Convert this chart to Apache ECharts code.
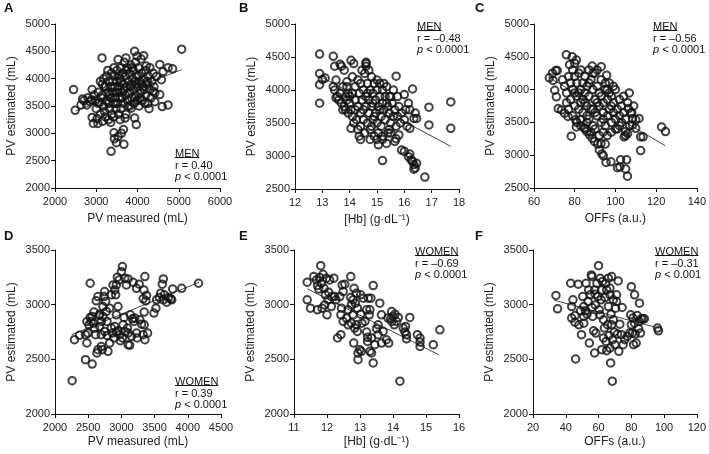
<!DOCTYPE html>
<html>
<head>
<meta charset="utf-8">
<script src="https://cdn.jsdelivr.net/npm/echarts@6/dist/echarts.min.js"></script>
<style>
  html, body { margin: 0; padding: 0; background: #fff; }
  #chart { width: 709px; height: 454px; }
</style>
</head>
<body>
<div id="chart"></div>
<script>
// A: men, PV measured vs PV estimated
const menMeasured = [
  [2450,3800],[2490,3420],[2670,3630],[2630,3520],[2770,3520],[2900,3800],[2880,3615],[2900,3290],[2930,3180],[3040,3180],
  [3020,3270],[3140,4380],[3080,3560],[3360,2670],[3430,3010],[3440,2900],[3530,2940],[3530,4350],[3490,2830],[3610,3000],
  [3670,2800],[3660,3070],[3700,3280],[3720,4380],[3930,4500],[3990,4410],[4090,4360],[4150,4420],[3970,3160],[3930,3280],
  [3850,3460],[4210,4230],[4420,3580],[4380,3770],[4540,4260],[4620,4130],[4580,3980],[4540,3710],[4600,3490],[4740,3520],
  [4740,4200],[4850,4180],[5070,4540],[4420,3740],[4460,4040],
  [3150,3900],[3150,3700],[3180,3500],[3200,3400],[3220,3300],[3200,3850],[3250,4050],[3250,3600],[3280,3750],[3300,3950],
  [3300,3550],[3320,3450],[3350,3850],[3350,3650],[3370,4100],[3380,3350],[3400,3950],[3400,3750],[3420,3550],[3450,4050],
  [3450,3850],[3460,3650],[3480,3450],[3500,4150],[3500,3950],[3500,3750],[3520,3550],[3540,3350],[3550,4050],[3560,3850],
  [3580,3650],[3600,4200],[3600,3950],[3600,3450],[3620,3750],[3640,4100],[3650,3550],[3660,3900],[3680,4300],[3700,3700],
  [3700,4050],[3720,3350],[3740,3850],[3750,4200],[3760,3600],[3780,3950],[3800,4100],[3800,3750],[3820,3500],[3840,4250],
  [3850,3900],[3860,3650],[3880,4000],[3900,3800],[3900,4150],[3920,3550],[3940,3950],[3950,4300],[3960,3700],[3980,4050],
  [4000,3850],[4000,3600],[4020,4200],[4040,3500],[4050,3950],[4080,3750],[4100,4100],[4100,3900],[4120,3600],[4150,4000],
  [4160,3800],[4200,3700],[4200,4150],[4220,3900],[4250,3550],[4260,4050],[4300,3800],[4300,4200],[4330,3650],[4350,3950],
  [4380,4100],[4400,3850],[3050,3750],[3050,3550],[3100,3950],[3100,3350],[2980,3600],[3000,3450],[3120,3650],[3180,4000],
  [3230,3850],[3280,4150],[3330,3700],[3430,4200],[3470,3550],[3530,3800],[3570,4000],[3630,3650],[3670,3800],[3730,4150],
  [3770,3500],[3830,3850],[3870,4200],[3930,3650],[3970,3900],[4030,4050],[4070,3650],[4130,3850],[4180,3550],[4240,3950],
  [4280,3450],[3300,3250],[3350,3200],[3420,3300],[3580,3250],[3150,3220],[2850,3580],[2950,3700],[2700,3600],[2800,3650]
];
// B: men, [Hb] vs PV estimated
const menHb = [
  [12.9,4545],[12.9,4250],[12.9,4080],[12.9,3800],[13.0,4160],[13.1,4180],[13.4,4510],[13.45,4360],[13.5,4150],[13.4,4050],
  [13.45,4000],[13.5,3880],[13.65,4390],[13.7,4360],[13.8,4300],[13.9,4125],[13.75,3700],[14.05,4450],[14.15,4400],[13.95,3950],
  [14.05,3420],[14.4,3250],[14.6,4420],[14.6,4360],[15.2,2930],[15.7,4210],[16.3,4015],[15.75,3900],[16.0,3930],[16.15,3800],
  [16.2,3700],[16.4,3650],[16.35,3570],[16.45,3570],[16.2,3420],[16.9,3740],[16.9,3470],[17.7,3820],[17.7,3420],[15.9,3090],
  [16.0,3070],[16.15,2990],[16.2,3030],[16.25,2940],[16.3,2920],[16.35,2870],[16.45,2890],[16.35,2800],[16.4,2820],[16.75,2680],
  [15.65,3220],[15.5,3350],[15.45,3400],[15.7,3260],[15.8,3320],[15.35,3190],[15.2,3250],[15.05,3170],
  [13.8,3750],[13.9,3850],[14.0,3800],[14.0,3900],[14.05,3700],[14.1,3950],[14.1,3600],[14.2,3850],[14.2,4050],[14.25,3550],
  [14.3,3750],[14.3,4150],[14.35,3950],[14.4,3650],[14.4,3450],[14.45,3850],[14.5,4000],[14.5,3550],[14.55,4250],[14.55,3350],
  [14.6,3750],[14.6,3900],[14.65,4100],[14.65,3500],[14.7,3650],[14.7,3850],[14.75,4000],[14.75,3400],[14.8,4200],[14.8,3750],
  [14.85,3550],[14.85,3950],[14.9,3300],[14.9,4100],[14.95,3650],[14.95,3850],[15.0,4000],[15.0,3500],[15.0,4150],[15.05,3750],
  [15.05,3350],[15.1,3900],[15.1,4100],[15.15,3600],[15.15,3450],[15.2,3800],[15.2,4000],[15.25,3700],[15.3,3900],[15.3,3550],
  [15.35,4050],[15.4,3750],[15.4,3350],[15.45,3650],[15.5,3900],[15.5,3500],[15.55,3800],[15.6,3600],[15.6,4000],[15.65,3700],
  [15.7,3450],[15.75,3600],[15.8,3750],[15.85,3500],[15.9,3650],[16.0,3550],[16.05,3700],[16.1,3450],[14.15,3500],[14.35,3300],
  [14.45,4300],[14.6,4400],[14.75,3250],[15.0,3250],[14.1,4200],[13.9,4050],[13.85,3900],[13.95,3650],[14.3,3400],[14.7,4300],
  [15.25,4100],[14.5,3700],[14.9,3600],[15.1,3700],[14.4,4100],[14.65,3950],[14.85,3800],[15.35,3800],[14.2,3700],[15.45,3900],
  [14.8,3450],[15.2,3300],[13.7,3800],[13.6,3850],[13.65,3950],[13.75,4050],[13.55,3900],[13.85,3700]
];
// C: men, OFFs vs PV estimated
const menOffs = [
  [67.5,4180],[69.1,4250],[70.7,4290],[71.4,4290],[69.4,4140],[70.2,3990],[71,3890],[71.9,3710],[73.5,3690],[75,3640],
  [76.7,3590],[75.9,4530],[78.8,4500],[77.5,4380],[80,4400],[80.8,4450],[78.3,3290],[80.8,3430],[80.5,3540],[82.9,3540],
  [84.8,3420],[86,3360],[87.3,3310],[88.6,3260],[89.7,3210],[91.3,3170],[92.9,3180],[92.1,3080],[93.4,3020],[94.1,2990],
  [95.4,2890],[97.8,2900],[101,2810],[102.2,2820],[102.6,2930],[105.5,2930],[105.9,2680],[105,2790],[95,3170],[93,4350],
  [95.7,4220],[88.6,4360],[106.8,3950],[111.6,3560],[112.4,3280],[113.6,3280],[112.4,3070],[122.7,3430],[124.6,3360],[106.4,3710],
  [107.6,3640],[108.4,3560],[110,3540],[108.4,3460],[110,3410],[106,3330],[105,3360],[104.3,3280],
  [74,4150],[75,4050],[76,3950],[77,4200],[78,4100],[78,3850],[79,4000],[80,4200],[80,3750],[81,4100],
  [82,3950],[82,4250],[83,3800],[84,4100],[84,3650],[85,3950],[85,4200],[86,3750],[86,4050],[87,3550],
  [87,3900],[88,4150],[88,3700],[89,4000],[89,3450],[90,3850],[90,4250],[91,3600],[91,4050],[92,3750],
  [92,3950],[93,3500],[93,4150],[94,3800],[94,3650],[95,4000],[95,3450],[96,3850],[96,3600],[97,4100],
  [97,3700],[98,3500],[98,3900],[99,3650],[99,3800],[100,3550],[100,4000],[101,3700],[101,3400],[102,3850],
  [102,3600],[103,3500],[103,3750],[104,3650],[104,3900],[105,3550],[106,3800],[107,3450],[108,3650],[109,3750],
  [76,3800],[77,3700],[79,3600],[81,3500],[83,3450],[85,3400],[86,3500],[88,3350],[90,3400],[92,3300],
  [94,3350],[96,3300],[98,3350],[100,3400],[87,4300],[89,4250],[83,4300],[91,4300],[95,4100],[99,4050],
  [97,3950],[93,3900],[91,3800],[89,3700],[87,4100],[85,3800],[83,4000],[81,3900],[79,4300],[80,3950],
  [82,3700],[84,3850],[86,3600],[90,3650],[94,3550],[96,4000],[98,3750],[102,3450],[105,3300]
];
// D: women, PV measured vs PV estimated
const womenMeasured = [
  [2258,2305],[2293,2680],[2369,2720],[2460,2725],[2480,2650],[2460,2497],[2560,2457],[2530,3196],[2530,2883],[2545,2846],
  [2560,2892],[2586,2932],[2581,2831],[2596,2786],[2611,2725],[2631,2558],[2646,2588],[2621,3035],[2646,3074],[2662,2901],
  [2672,2801],[2697,2618],[2712,2588],[2722,2983],[2737,3074],[2747,3120],[2763,3029],[2773,2938],[2783,2847],[2747,2755],
  [2783,2719],[2798,2573],[2823,2649],[2848,2786],[2823,2968],[2848,3090],[2874,3181],[2899,3135],[2914,3090],[2924,3181],
  [2939,3251],[2965,3226],[3015,3348],[3000,3302],[3051,3242],[3076,3181],[3101,3235],[2949,2983],[2924,2907],[2899,2801],
  [2924,2749],[2949,2761],[2975,2725],[2985,2670],[3015,2695],[3040,2883],[3051,2755],[3091,2786],[3101,2740],[3101,2634],
  [3126,2628],[3152,2710],[3167,2871],[3187,2847],[3177,3205],[3202,2877],[3227,2740],[3237,2695],[3227,3150],[3268,3187],
  [3303,2822],[3328,2725],[3343,2816],[3354,2679],[3328,3053],[3343,2932],[3354,3257],[3339,3135],[3369,3035],[3379,3084],
  [3394,2740],[3490,2923],[3520,2968],[3530,3044],[3571,3065],[3591,3105],[3616,3187],[3631,3235],[3631,3044],[3647,3090],
  [3682,3023],[3707,3065],[3743,3053],[3773,3144],[3758,3044],[3909,3150],[4162,3196],[2672,2913],[2697,2846],[2722,2892],
  [2480,2846],[2510,2816],[2495,2740],[2697,2725],[2864,2740],[2889,2695],[3025,2816],[3136,2907],[3278,2862]
];
// E: women, [Hb] vs PV estimated
const womenHb = [
  [11.4,3205],[11.4,3044],[11.5,2968],[11.6,3257],[11.68,3226],[11.71,3175],[11.71,2953],[11.75,3144],[11.78,3248],[11.81,3357],
  [11.83,3196],[11.85,2968],[11.88,3278],[11.91,3150],[11.93,2998],[11.95,3090],[11.98,3242],[12.0,2907],[12.03,3044],[12.05,3114],
  [12.08,3226],[12.13,2983],[12.15,3074],[12.21,3242],[12.23,3074],[12.27,3044],[12.32,2695],[12.39,3074],[12.42,2725],[12.42,2907],
  [12.44,2968],[12.46,3181],[12.49,3120],[12.49,2846],[12.54,3187],[12.59,2877],[12.64,2953],[12.64,2816],[12.72,3257],[12.72,3065],
  [12.74,2998],[12.74,2831],[12.79,2907],[12.79,3044],[12.81,2649],[12.82,3150],[12.84,2786],[12.86,3014],[12.89,3105],[12.89,2816],
  [12.92,2755],[12.92,2968],[12.94,2558],[12.94,2497],[12.99,2588],[13.02,3090],[13.02,2913],[13.04,2573],[13.06,2831],[13.15,2846],
  [13.2,2953],[13.2,2749],[13.23,2701],[13.23,2664],[13.25,3059],[13.28,2907],[13.3,2573],[13.3,2953],[13.35,2558],[13.33,3059],
  [13.35,2695],[13.4,3175],[13.4,2467],[13.45,2634],[13.5,2780],[13.55,2816],[13.55,2725],[13.6,3014],[13.65,2907],[13.65,2649],
  [13.7,2755],[13.8,2679],[13.85,2877],[13.87,2649],[13.93,2871],[13.96,2846],[14.0,2892],[14.04,2816],[14.06,2913],[14.11,2846],
  [14.16,2883],[14.21,2300],[14.31,2786],[14.36,2749],[14.41,2725],[14.41,2688],[14.51,2883],[14.74,2725],[14.82,2695],[14.82,2658],
  [14.82,2618],[15.22,2634],[15.42,2770],[13.96,2937],[14.38,2801],[13.1,3059]
];
// F: women, OFFs vs PV estimated
const womenOffs = [
  [34,3084],[35,2962],[43,3196],[43.6,2983],[43.6,2877],[44.4,3044],[45.6,2840],[45.6,2901],[46,2503],[47.6,3187],
  [48,2816],[49,2944],[49.6,2725],[50.4,3074],[51,2831],[51,2983],[52,2944],[52.4,3196],[53,2913],[53.6,3029],
  [54,3135],[54.4,2649],[55,3090],[55.6,3272],[56,2974],[56.4,2892],[57,2761],[57.6,2558],[57.6,3135],[58,2998],
  [58.4,2740],[59,3196],[59.6,3074],[60,3357],[60.4,2953],[61,3242],[61.6,3044],[62,2588],[62,3135],[62.4,3211],
  [63,2695],[63,2862],[63.6,2786],[64,3065],[64.4,3196],[64.6,2664],[65,2579],[65.6,2816],[66,2983],[66,3242],
  [66.4,2719],[67,2603],[67,3090],[67.4,2467],[67.6,2913],[68,2816],[68,3257],[68.4,2300],[68.6,2679],[69,3044],
  [69,2862],[69.6,2749],[70,2634],[70.4,2968],[71,3090],[71.6,2731],[72,3217],[72.4,2573],[73,2822],[74,2725],
  [74.4,2974],[75,2634],[76,2679],[77.6,2710],[79,2740],[79.6,2907],[80,3165],[80,2816],[80.6,2740],[81,2877],
  [81.4,2634],[82,3090],[82,2831],[82.4,2731],[83,2649],[83.6,2901],[84.4,2780],[85,3014],[85,2846],[85.6,2740],
  [86,2871],[87,2871],[88,2871],[96,2786],[96.6,2761],[56,3257],[58,3096],[61,2907],[71,3029],[51,2892],
  [67,3150],[65,3135]
];

// regression line end points
const fitLines = [
  [[2500,3410],[5070,4165]],
  [[13.0,4190],[17.7,3145]],
  [[67,4190],[124.6,3143]],
  [[2250,2725],[4170,3205]],
  [[11.4,3145],[15.4,2540]],
  [[33,3040],[97,2785]]
];

const panelData = [menMeasured, menHb, menOffs, womenMeasured, womenHb, womenOffs];
const panelLetters = ["A", "B", "C", "D", "E", "F"];
const xNames = ["PV measured (mL)", "[Hb] (g\u00b7dL\u207b\u00b9)", "OFFs (a.u.)", "PV measured (mL)", "[Hb] (g\u00b7dL\u207b\u00b9)", "OFFs (a.u.)"];
const xRanges = [[2000, 6000, 1000], [12, 18, 1], [60, 140, 20], [2000, 4500, 500], [11, 16, 1], [20, 120, 20]];
const yRanges = [[2000, 5000, 500], [2500, 5000, 500], [2500, 5000, 500], [2000, 3500, 500], [2000, 3500, 500], [2000, 3500, 500]];
const groupLabels = ["MEN", "MEN", "MEN", "WOMEN", "WOMEN", "WOMEN"];
const rTexts = ["r = 0.40", "r = \u20130.48", "r = \u20130.56", "r = 0.39", "r = \u20130.69", "r = \u20130.31"];
const pTexts = ["< 0.0001", "< 0.0001", "< 0.0001", "< 0.0001", "< 0.0001", "< 0.001"];

const FONT = "'Liberation Sans', Arial, sans-serif";

const grids = [
  { left: 55, top: 24, width: 165, height: 164 },
  { left: 295, top: 24, width: 164, height: 165 },
  { left: 534, top: 24, width: 164, height: 164 },
  { left: 55, top: 250, width: 166, height: 164 },
  { left: 294, top: 250, width: 165, height: 164 },
  { left: 533, top: 250, width: 166, height: 164 }
];
const letterPos = [[4, 2], [239, 2], [475, 2], [4, 230], [239, 230], [475, 230]];
const annotPos = [[175, 152], [417, 25], [653, 25], [175, 380], [415, 250], [655, 250]];
const xNameGaps = [25, 25, 25, 22, 22, 22];

const axisCommon = {
  axisLine: { lineStyle: { color: "#111", width: 1 } },
  axisTick: { show: true, length: 4, lineStyle: { color: "#111" } },
  axisLabel: { color: "#222", fontSize: 11, fontFamily: FONT, formatter: v => String(v) },
  splitLine: { show: false }
};

const xAxes = xRanges.map((r, i) => Object.assign({}, axisCommon, {
  type: "value", gridIndex: i, min: r[0], max: r[1], interval: r[2],
  name: xNames[i], nameLocation: "middle", nameGap: xNameGaps[i],
  nameTextStyle: { color: "#222", fontSize: 12, fontFamily: FONT },
  axisLabel: Object.assign({}, axisCommon.axisLabel, { margin: 8 })
}));
const yAxes = yRanges.map((r, i) => Object.assign({}, axisCommon, {
  type: "value", gridIndex: i, min: r[0], max: r[1], interval: r[2],
  name: "PV estimated (mL)", nameLocation: "middle", nameGap: 37,
  nameTextStyle: { color: "#222", fontSize: 12, fontFamily: FONT },
  axisLabel: Object.assign({}, axisCommon.axisLabel, { margin: 5 })
}));

const series = [];
panelData.forEach((d, i) => {
  series.push({
    type: "line", xAxisIndex: i, yAxisIndex: i, data: fitLines[i],
    symbol: "none", silent: true, z: 1,
    lineStyle: { color: "#444", width: 1 }
  });
  series.push({
    type: "scatter", xAxisIndex: i, yAxisIndex: i, data: d,
    symbol: "circle", symbolSize: 7.5, z: 2,
    itemStyle: { color: "rgba(255,255,255,0)", borderColor: "#111", borderWidth: 2 }
  });
});

const measure = document.createElement("canvas").getContext("2d");
measure.font = "11px " + FONT;

const graphic = [];
panelLetters.forEach((l, i) => {
  graphic.push({
    type: "text", left: letterPos[i][0], top: letterPos[i][1],
    style: { text: l, font: "bold 13px " + FONT, fill: "#111" }
  });
  const [ax, ay] = annotPos[i];
  const w = measure.measureText(groupLabels[i]).width;
  graphic.push({
    type: "text", x: ax, y: ay - 4,
    style: { text: groupLabels[i], font: "11px " + FONT, fill: "#111", verticalAlign: "top" }
  });
  graphic.push({
    type: "line", shape: { x1: ax, y1: ay + 5.5, x2: ax + w, y2: ay + 5.5 },
    style: { stroke: "#111", lineWidth: 1 }
  });
  graphic.push({
    type: "text", x: ax, y: ay + 8,
    style: { text: rTexts[i], font: "11px " + FONT, fill: "#111", verticalAlign: "top" }
  });
  graphic.push({
    type: "text", x: ax, y: ay + 19.5,
    style: {
      text: "{i|p} " + pTexts[i], font: "11px " + FONT, fill: "#111", verticalAlign: "top",
      rich: { i: { fontStyle: "italic", fontSize: 11, fontFamily: FONT } }
    }
  });
});

const chart = echarts.init(document.getElementById("chart"));
chart.setOption({
  animation: false,
  backgroundColor: "#fff",
  textStyle: { fontFamily: FONT },
  grid: grids,
  xAxis: xAxes,
  yAxis: yAxes,
  series: series,
  graphic: graphic
});
</script>
</body>
</html>
